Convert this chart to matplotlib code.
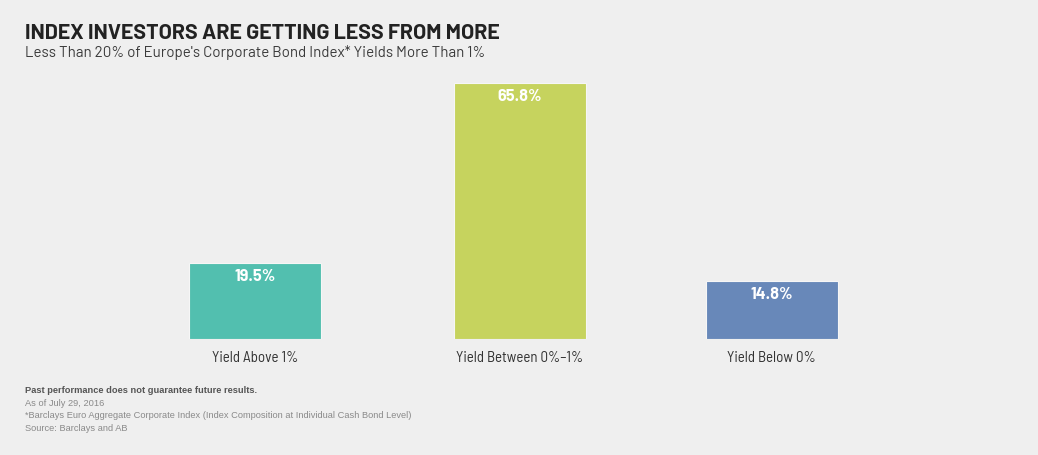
import matplotlib
matplotlib.use("Agg")
import matplotlib.pyplot as plt

# data
categories = ["Yield Above 1%", "Yield Between 0%\u20131%", "Yield Below 0%"]
shares = [19.5, 65.8, 14.8]
bar_colors = ["#52bfaf", "#c6d35e", "#6888b9"]

title = "INDEX INVESTORS ARE GETTING LESS FROM MORE"
subtitle = "Less Than 20% of Europe's Corporate Bond Index* Yields More Than 1%"
disclaimer = "Past performance does not guarantee future results."
notes = ["As of July 29, 2016",
         "*Barclays Euro Aggregate Corporate Index (Index Composition at Individual Cash Bond Level)",
         "Source: Barclays and AB"]

W, H = 1038, 455
bg = "#efefef"
main_font = "Barlow"
label_font = "Barlow Semi Condensed"
note_font = "Liberation Sans"
fig = plt.figure(figsize=(W / 100, H / 100), dpi=100, facecolor=bg)

# axes: baseline at y=339px, top of tallest bar at y=83px
ax = fig.add_axes([0, (H - 339) / H, 1, (339 - 83) / H])
ax.set_facecolor(bg)
# slot positions (in bar-spacing units), bars are not quite evenly spaced
slots = [0.0, 1.0, 1.95]
step = 265 / W
x0 = 255 / W
xs = [x0 + s * step for s in slots]
width = 132 / W

bars = ax.bar(xs, shares, width=width, color=bar_colors,
              edgecolor="#f6f6f6", linewidth=0.8)
ax.set_xlim(0, 1)
ax.set_ylim(0, max(shares))
ax.axis("off")

for b, v in zip(bars, shares):
    ax.annotate(f"{v:.1f}%", (b.get_x() + b.get_width() / 2, v),
                xytext=(0, -18), textcoords="offset pixels",
                ha="center", va="baseline", color="white",
                fontsize=11.8, fontweight="bold", family=main_font)

for x, c in zip(xs, categories):
    ax.annotate(c, (x, 0), xytext=(0, -22.5), textcoords="offset pixels",
                ha="center", va="baseline", color="#333333",
                fontsize=10.8, family=label_font)

fig.text(25 / W, 1 - 39 / H, title, fontsize=15.4, fontweight="bold",
         color="#222222", family=main_font, va="baseline")
fig.text(25 / W, 1 - 57 / H, subtitle, fontsize=10.85,
         color="#3a3a3a", family=main_font, va="baseline")

fig.text(25 / W, 1 - 393 / H, disclaimer, fontsize=6.7, fontweight="bold",
         color="#555555", family=note_font, va="baseline")
for i, n in enumerate(notes):
    fig.text(25 / W, 1 - (406 + 12.4 * i) / H, n, fontsize=6.7,
             color="#8a8a8a", family=note_font, va="baseline")

fig.savefig("out.png", dpi=100, facecolor=bg)
